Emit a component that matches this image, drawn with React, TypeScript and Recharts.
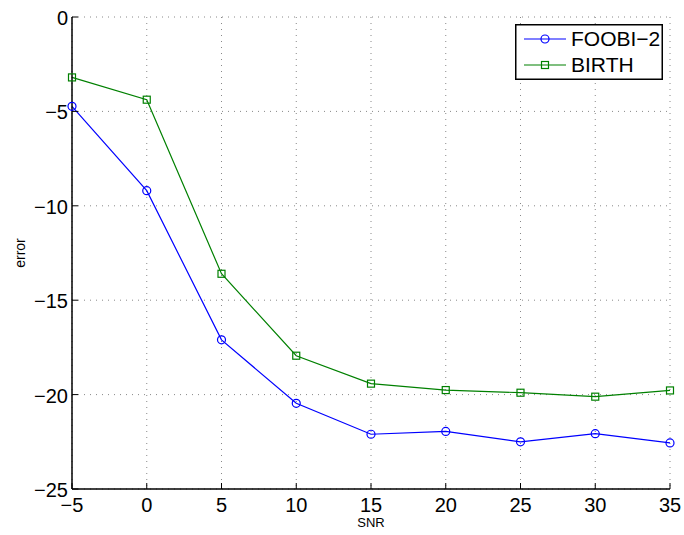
import { LineChart, Line, XAxis, YAxis, CartesianGrid, Legend } from 'recharts';

const snr = [-5, 0, 5, 10, 15, 20, 25, 30, 35];
const foobi2 = [-4.73, -9.2, -17.1, -20.46, -22.1, -21.95, -22.5, -22.07, -22.56];
const birth = [-3.2, -4.38, -13.6, -17.94, -19.42, -19.76, -19.9, -20.11, -19.78];
const xTicks = [-5, 0, 5, 10, 15, 20, 25, 30, 35];
const yTicks = [-25, -20, -15, -10, -5, 0];
const seriesNames = ['FOOBI\u22122', 'BIRTH'];

const data = snr.map((s, i) => ({ snr: s, foobi: foobi2[i], birth: birth[i] }));

const FONT = '"Liberation Sans", Arial, Helvetica, sans-serif';
const BLUE = '#0000ff';
const GREEN = '#008000';
const TICK = 6;

// matlab-style numbers use a real minus sign
const fmt = (v: number) => String(v).replace('-', '\u2212');

const BottomTick = (props: any) => {
  const { x, y, payload } = props;
  return (
    <g>
      <line x1={x} y1={y} x2={x} y2={y - TICK} stroke="#000" strokeWidth={1} />
      <text x={x} y={y + 23} textAnchor="middle" fontSize={20} fontFamily={FONT} fill="#000">
        {fmt(payload.value)}
      </text>
    </g>
  );
};

const LeftTick = (props: any) => {
  const { x, y, payload } = props;
  return (
    <g>
      <line x1={x} y1={y} x2={x + TICK} y2={y} stroke="#000" strokeWidth={1} />
      <text x={x - 4} y={y + 8} textAnchor="end" fontSize={20} fontFamily={FONT} fill="#000">
        {fmt(payload.value)}
      </text>
    </g>
  );
};

const TopTick = (props: any) => {
  const { x, y } = props;
  return <line x1={x} y1={y} x2={x} y2={y + TICK} stroke="#000" strokeWidth={1} />;
};

const RightTick = (props: any) => {
  const { x, y } = props;
  return <line x1={x} y1={y} x2={x - TICK} y2={y} stroke="#000" strokeWidth={1} />;
};

const SquareDot = (props: any) => {
  const { cx, cy, index } = props;
  if (cx == null || cy == null) return <g key={index} />;
  return (
    <rect key={index} x={cx - 3.5} y={cy - 3.5} width={7} height={7}
      fill="none" stroke={GREEN} strokeWidth={1.2} />
  );
};

const ErrorLabel = (props: any) => {
  const vb = props.viewBox || {};
  const cy = vb.y + vb.height / 2;
  return (
    <text x={20} y={cy} transform={`rotate(-90, 20, ${cy})`} textAnchor="middle"
      dominantBaseline="central" fontSize={14} fontFamily={FONT} fill="#000">
      error
    </text>
  );
};

const LegendBox = () => (
  <svg width={148} height={56} style={{ display: 'block' }}>
    <rect x={0.75} y={0.75} width={146.5} height={54.5} fill="#fff" stroke="#000" strokeWidth={1.5} />
    <line x1={9} y1={15} x2={51} y2={15} stroke={BLUE} strokeWidth={1.2} />
    <circle cx={30} cy={15} r={4} fill="none" stroke={BLUE} strokeWidth={1.2} />
    <text x={56} y={22} fontSize={21} fontFamily={FONT} fill="#000">{seriesNames[0]}</text>
    <line x1={9} y1={41} x2={51} y2={41} stroke={GREEN} strokeWidth={1.2} />
    <rect x={26.5} y={37.5} width={7} height={7} fill="none" stroke={GREEN} strokeWidth={1.2} />
    <text x={56} y={48} fontSize={21} fontFamily={FONT} fill="#000">{seriesNames[1]}</text>
  </svg>
);

export default function App() {
  return (
    <div style={{ position: 'absolute', left: 0, top: 0, background: '#fff' }}>
      <LineChart width={684} height={535} data={data}
        margin={{ top: 17, right: 14, bottom: 0, left: 0 }}>
        <CartesianGrid stroke="#888" strokeDasharray="1 5" strokeWidth={1}
          verticalValues={xTicks} horizontalValues={yTicks} />
        <XAxis dataKey="snr" type="number" domain={[-5, 35]} ticks={xTicks} interval={0}
          height={46} tickSize={0} tickMargin={0} tick={<BottomTick />}
          axisLine={{ stroke: '#000', strokeWidth: 1.5 }}
          label={{ value: 'SNR', position: 'insideBottom', offset: 8, fontSize: 13, fontFamily: FONT, fill: '#000' }} />
        <XAxis xAxisId="top" orientation="top" dataKey="snr" type="number" domain={[-5, 35]}
          ticks={xTicks} interval={0} height={0} tickSize={0} tickMargin={0} tick={<TopTick />}
          axisLine={{ stroke: '#000', strokeWidth: 1.5 }} />
        <YAxis type="number" domain={[-25, 0]} ticks={yTicks} interval={0} width={72}
          tickSize={0} tickMargin={0} tick={<LeftTick />}
          axisLine={{ stroke: '#000', strokeWidth: 1.5 }} label={<ErrorLabel />} />
        <YAxis yAxisId="right" orientation="right" type="number" domain={[-25, 0]} ticks={yTicks}
          interval={0} width={0} tickSize={0} tickMargin={0} tick={<RightTick />}
          axisLine={{ stroke: '#000', strokeWidth: 1.5 }} />
        <Line dataKey="foobi" name={seriesNames[0]} stroke={BLUE} strokeWidth={1.2}
          dot={{ r: 4, fill: 'none', stroke: BLUE, strokeWidth: 1.2 }} activeDot={false}
          isAnimationActive={false} />
        <Line dataKey="birth" name={seriesNames[1]} stroke={GREEN} strokeWidth={1.2}
          dot={<SquareDot />} activeDot={false} isAnimationActive={false} />
        <Legend layout="vertical" align="center" verticalAlign="middle" content={<LegendBox />}
          wrapperStyle={{ position: 'absolute', left: 515, top: 24, width: 148, height: 56 }} />
      </LineChart>
    </div>
  );
}
